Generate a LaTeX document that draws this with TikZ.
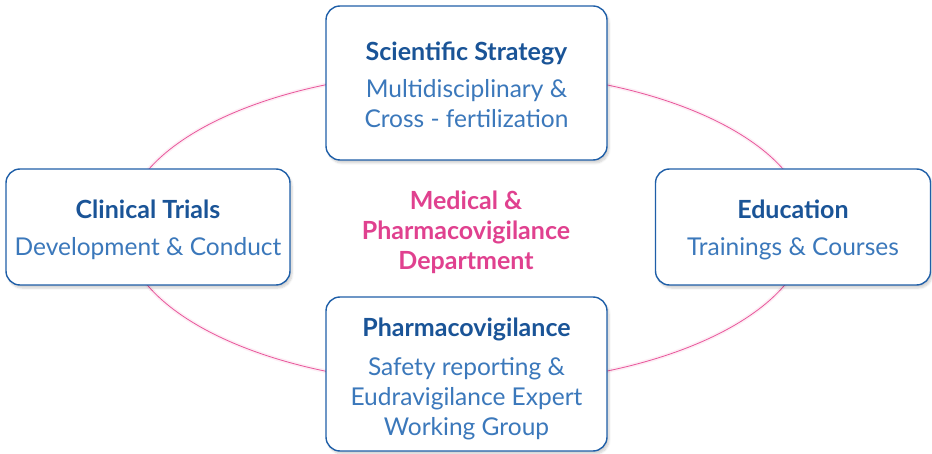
\documentclass[tikz,border=0pt]{standalone}
\usepackage{fontspec}
\setmainfont{Lato}
\usetikzlibrary{shadows.blur}
\definecolor{boxblue}{HTML}{1F5FA8}
\definecolor{titleblue}{HTML}{1A5497}
\definecolor{bodyblue}{HTML}{3B78BB}
\definecolor{deptpink}{HTML}{E0418F}
\definecolor{ringpink}{HTML}{E8559A}
\tikzset{
  areabox/.style={draw=boxblue, line width=1.4pt, fill=white, rounded corners=14pt,
    inner sep=0pt,
    blur shadow={shadow xshift=2pt, shadow yshift=-3pt, shadow blur steps=6, shadow opacity=18}},
  areatext/.style={align=center, text=bodyblue, inner sep=0pt,
    font=\fontsize{24.5}{30}\selectfont},
}
\newcommand{\areahead}[1]{{\fontsize{25}{30}\selectfont\bfseries\color{titleblue}#1}}
\begin{document}
\begin{tikzpicture}[x=1pt, y=-1pt]
  \useasboundingbox (0,0) rectangle (932,454);
  % department ring with a faint glow
  \draw[ringpink, line width=4pt, opacity=0.10] (466,228) ellipse [x radius=342, y radius=157];
  \draw[ringpink, line width=0.8pt] (466,228) ellipse [x radius=342, y radius=157];
  % department label
  \node[align=center, text=deptpink, font=\fontsize{25}{30}\selectfont\bfseries]
    (dept) at (466,232) {Medical \&\\Pharmacovigilance\\Department};
  % four areas around the ring
  \node[areabox, minimum width=281pt, minimum height=154pt] (strategy) at (466.5,83) {};
  \node[areabox, minimum width=284pt, minimum height=116pt] (trials) at (148,227) {};
  \node[areabox, minimum width=275pt, minimum height=116pt] (education) at (793,227) {};
  \node[areabox, minimum width=281pt, minimum height=154pt] (pv) at (466.5,374) {};
  % their texts
  \node[areatext] (strategy-text) at ([yshift=-2pt]strategy.center)
    {\areahead{Scientific Strategy}\\[7pt]Multidisciplinary \&\\Cross - fertilization};
  \node[areatext] (trials-text) at ([yshift=-3pt]trials.center)
    {\areahead{Clinical Trials}\\[7pt]Development \& Conduct};
  \node[areatext] (education-text) at ([yshift=-3pt]education.center)
    {\areahead{Education}\\[7pt]Trainings \& Courses};
  \node[areatext] (pv-text) at ([yshift=-5pt]pv.center)
    {\areahead{Pharmacovigilance}\\[9pt]Safety reporting \&\\Eudravigilance Expert\\Working Group};
\end{tikzpicture}
\end{document}
